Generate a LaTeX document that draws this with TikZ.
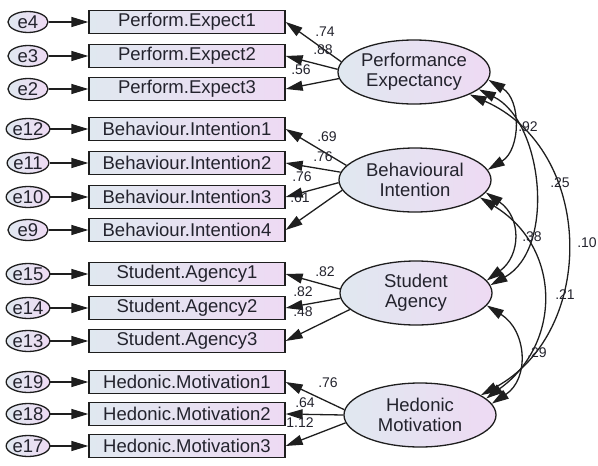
\documentclass[tikz,border=0pt]{standalone}
\usepackage{fontspec}
\setmainfont{Liberation Sans}
\usetikzlibrary{shapes.geometric, arrows.meta, positioning, calc}
\definecolor{fillleft}{RGB}{224,232,240}
\definecolor{fillright}{RGB}{238,218,243}
\definecolor{inkgray}{RGB}{30,30,30}
\definecolor{textgray}{RGB}{35,35,45}

\tikzset{
  indicator/.style={draw=inkgray, line width=1.3pt, left color=fillleft, right color=fillright,
    minimum width=196pt, minimum height=23pt, inner sep=0pt, text=textgray,
    font=\fontsize{18.5}{20}\selectfont},
  errterm/.style={ellipse, draw=inkgray, line width=1.3pt, left color=fillleft, right color=fillright,
    minimum width=40pt, minimum height=21pt, inner sep=0pt, text=textgray,
    font=\fontsize{18.5}{20}\selectfont},
  latent/.style={ellipse, draw=inkgray, line width=1.3pt, left color=fillleft, right color=fillright,
    minimum width=152pt, minimum height=64pt, inner sep=0pt, align=center, text=textgray,
    font=\fontsize{18.5}{20}\selectfont},
  regarrow/.style={->, draw=inkgray, line width=1.3pt},
  covarrow/.style={<->, draw=inkgray, line width=1.3pt},
  coef/.style={inner sep=0pt, text=textgray, font=\fontsize{14}{14}\selectfont}
}

\begin{document}
\begin{tikzpicture}[x=1pt, y=1pt, >={Triangle[length=17pt, width=10pt]}]
  \useasboundingbox (0,0) rectangle (598,-466);

  % observed indicators with their error terms
  \foreach \nm/\lab/\err/\y in {pe1/Perform.Expect1/e4/22, pe2/Perform.Expect2/e3/56, pe3/Perform.Expect3/e2/89,
      bi1/Behaviour.Intention1/e12/129, bi2/Behaviour.Intention2/e11/163,
      bi3/Behaviour.Intention3/e10/197, bi4/Behaviour.Intention4/e9/230,
      sa1/Student.Agency1/e15/274, sa2/Student.Agency2/e14/308, sa3/Student.Agency3/e13/341,
      hm1/Hedonic.Motivation1/e19/382, hm2/Hedonic.Motivation2/e18/414, hm3/Hedonic.Motivation3/e17/446} {
    \node[indicator] (\nm) at (187,-\y) {\lab};
    \node[errterm] (\err) at (28,-\y) {\err};
    \draw[regarrow] (\err) -- (\nm);
  }

  % latent constructs
  \node[latent] (pe) at (414,-72) {Performance\\Expectancy};
  \node[latent] (bi) at (415,-180) {Behavioural\\Intention};
  \node[latent] (sa) at (416,-293) {Student\\Agency};
  \node[latent] (hm) at (420,-415) {Hedonic\\Motivation};

  % factor loadings
  \draw[regarrow] (pe.172) -- (pe1.east);
  \draw[regarrow] (pe.178) -- (pe2.east);
  \draw[regarrow] (pe.185) -- (pe3.east);
  \draw[regarrow] (bi.168) -- (bi1.east);
  \draw[regarrow] (bi.174) -- (bi2.east);
  \draw[regarrow] (bi.182) -- (bi3.east);
  \draw[regarrow] (bi.188) -- (bi4.east);
  \draw[regarrow] (sa.177) -- (sa1.east);
  \draw[regarrow] (sa.184) -- (sa2.east);
  \draw[regarrow] (sa.194) -- (sa3.east);
  \draw[regarrow] (hm.176) -- (hm1.east);
  \draw[regarrow] (hm.180) -- (hm2.east);
  \draw[regarrow] (hm.186) -- (hm3.east);

  \node[coef] (lpe1) at (325,-32) {.74};
  \node[coef] (lpe2) at (323,-50) {.88};
  \node[coef] (lpe3) at (301,-70) {.56};
  \node[coef] (lbi1) at (327,-137) {.69};
  \node[coef] (lbi2) at (323,-157) {.76};
  \node[coef] (lbi3) at (302,-177) {.76};
  \node[coef] (lbi4) at (300,-198) {.61};
  \node[coef] (lsa1) at (325,-272) {.82};
  \node[coef] (lsa2) at (303,-292) {.82};
  \node[coef] (lsa3) at (303,-312) {.48};
  \node[coef] (lhm1) at (328,-383) {.76};
  \node[coef] (lhm2) at (305,-403) {.64};
  \node[coef] (lhm3) at (300,-423) {1.12};

  % correlations between constructs
  \draw[covarrow] (pe.-6) .. controls +(33,-20) and +(33,20) .. (bi.8);
  \draw[covarrow] (pe.-15) .. controls +(64,-32) and +(66,37) .. (sa.6);
  \draw[covarrow] (pe.-22) .. controls +(125,-55) and +(117,64) .. (hm.18);
  \draw[covarrow] (bi.-10) .. controls +(36,-25) and +(34,25) .. (sa.10);
  \draw[covarrow] (bi.-15) .. controls +(82,-50) and +(76,55) .. (hm.14);
  \draw[covarrow] (sa.-10) .. controls +(40,-25) and +(38,25) .. (hm.9);

  \node[coef] (rpebi) at (528,-127) {.92};
  \node[coef] (rpesa) at (560,-183) {.25};
  \node[coef] (rpehm) at (587,-243) {.10};
  \node[coef] (rbisa) at (532,-237) {.38};
  \node[coef] (rbihm) at (565,-295) {.21};
  \node[coef] (rsahm) at (537,-353) {.29};
\end{tikzpicture}
\end{document}
